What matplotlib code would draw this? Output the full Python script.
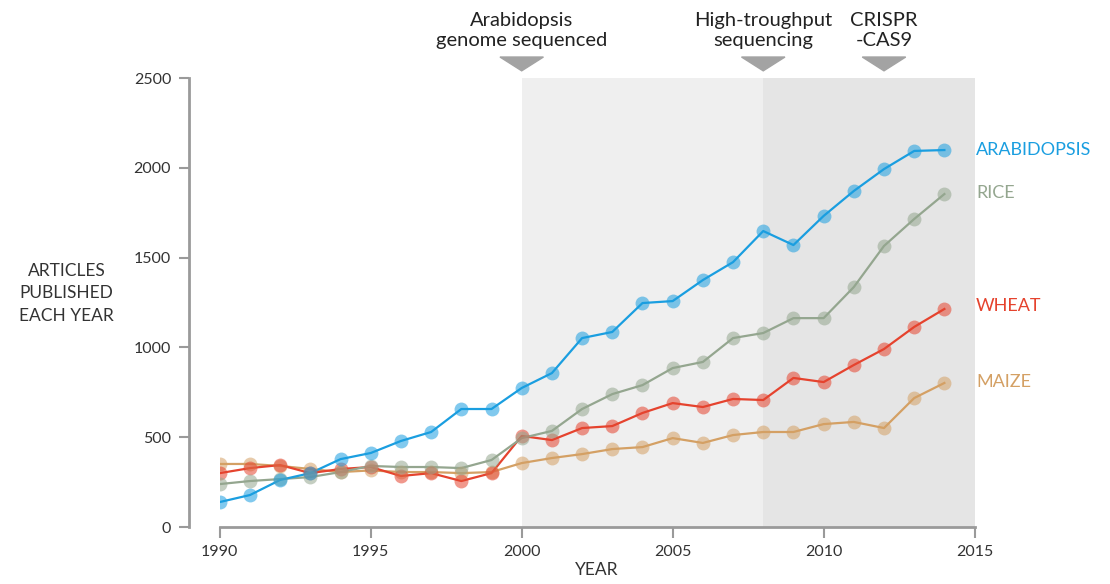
import matplotlib
matplotlib.use("Agg")
from matplotlib import pyplot as plt
from matplotlib.patches import Polygon

years = list(range(1990, 2015))
arabidopsis = [139, 178, 262, 300, 378, 412, 479, 529, 657, 657, 774, 857, 1052, 1086, 1247, 1258,
               1375, 1475, 1648, 1570, 1732, 1871, 1993, 2094, 2099]
rice = [239, 256, 267, 278, 306, 340, 334, 334, 328, 373, 495, 535, 657, 740, 790, 885,
        919, 1052, 1080, 1163, 1163, 1336, 1565, 1715, 1854]
wheat = [300, 328, 345, 300, 323, 334, 284, 300, 256, 300, 507, 484, 551, 562, 635, 690,
         668, 713, 707, 830, 807, 902, 991, 1114, 1214]
maize = [351, 351, 340, 323, 306, 315, 306, 306, 300, 306, 356, 384, 406, 434, 445, 495,
         468, 512, 529, 529, 573, 585, 551, 718, 802]

series = [("ARABIDOPSIS", arabidopsis, "#1a9ee0"),
          ("RICE", rice, "#94a68f"),
          ("WHEAT", wheat, "#e5432e"),
          ("MAIZE", maize, "#d4a064")]

events = [(2000, "Arabidopsis\ngenome sequenced"),
          (2008, "High-troughput\nsequencing"),
          (2012, "CRISPR\n-CAS9")]

plt.rcParams['font.family'] = ['Lato', 'DejaVu Sans']

fig = plt.figure(figsize=(11.1, 5.84), dpi=100)
ax = fig.add_axes([0.198, 0.0976, 0.680, 0.7688])

ax.axvspan(2000, 2008, color="#efefef", lw=0, zorder=0)
ax.axvspan(2008, 2015, color="#e5e5e5", lw=0, zorder=0)

for name, vals, col in reversed(series):
    ax.plot(years, vals, color=col, lw=1.6, zorder=3)
    ax.plot(years, vals, 'o', color=col, ms=10, alpha=0.55, mec='none', zorder=4)

label_y = {"ARABIDOPSIS": 2099, "RICE": 1860, "WHEAT": 1230, "MAIZE": 810}
for name, vals, col in series:
    ax.text(2015.05, label_y[name], name, color=col, fontsize=13, va="center", ha="left")

for x, txt in events:
    tri = Polygon([(x - 0.72, 2617), (x + 0.72, 2617), (x, 2540)], closed=True,
                  color="#a3a3a3", clip_on=False, transform=ax.transData)
    ax.add_patch(tri)
    ax.text(x, 2660, txt, ha="center", va="bottom", fontsize=14.5, color="#222222",
            linespacing=1.2)

ax.set_xlim(1990, 2015)
ax.set_ylim(0, 2500)
ax.set_xticks([1990, 1995, 2000, 2005, 2010, 2015])
ax.set_yticks([0, 500, 1000, 1500, 2000, 2500])

for s in ["top", "right"]:
    ax.spines[s].set_visible(False)
ax.spines["left"].set_position(("outward", 22))
for s in ["left", "bottom"]:
    ax.spines[s].set_color("#9a9a9a")
    ax.spines[s].set_linewidth(2)
ax.tick_params(axis="y", direction="out", length=7, width=1.5, color="#9a9a9a",
               labelsize=11.5, labelcolor="#333333", pad=6)
ax.tick_params(axis="x", direction="out", length=8, width=1.5, color="#9a9a9a",
               labelsize=11.5, labelcolor="#333333", pad=5)

ax.set_xlabel("YEAR", fontsize=12.5, color="#333333", labelpad=2)
fig.text(0.06, 0.498, "ARTICLES\nPUBLISHED\nEACH YEAR", ha="center", va="center",
         fontsize=12.5, color="#333333", linespacing=1.5)

fig.savefig("out.png", dpi=100)
